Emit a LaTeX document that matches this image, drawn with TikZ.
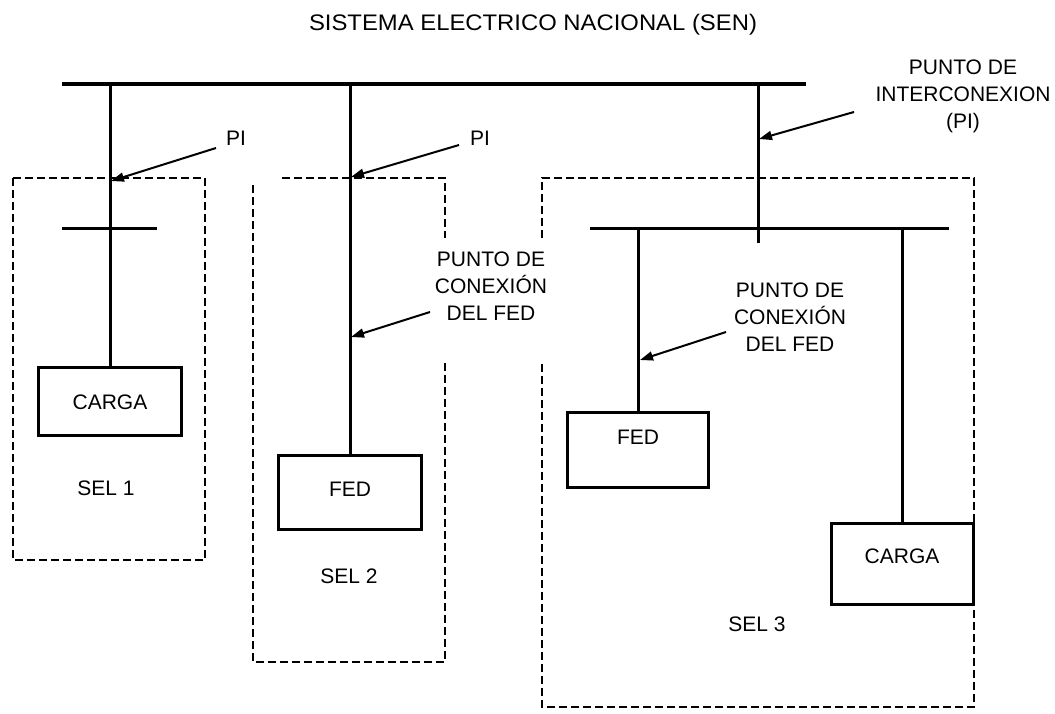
\documentclass[tikz,border=0pt]{standalone}
\usepackage{fontspec}
\setmainfont{Liberation Sans}
\newfontfamily\titlefont[FakeStretch=1.06]{Liberation Sans}
\usetikzlibrary{arrows.meta}
\begin{document}
\begin{tikzpicture}[x=1pt,y=-1pt,
  font=\fontsize{21}{27}\selectfont,
  bus/.style={line width=4pt},
  wire/.style={line width=3pt},
  boxnode/.style={draw, line width=3pt, inner sep=0pt, text height=15pt, text depth=0pt},
  selbox/.style={line width=1.5pt, dash pattern=on 8pt off 4pt},
  ptr/.style={line width=2pt, -{Triangle[length=13pt,width=9pt]}},
  lbl/.style={inner sep=0pt, align=center}]
\useasboundingbox (0,0) rectangle (1055,714);

% title
\node[lbl, font=\titlefont\fontsize{22.5}{27}\selectfont] (title) at (533,25) {SISTEMA ELECTRICO NACIONAL (SEN)};

% buses
\coordinate (busL) at (62,84);
\coordinate (busR) at (806,84);
\draw[bus] (busL) -- (busR);
\coordinate (b1top) at (110,84);
\coordinate (b2top) at (350,84);
\coordinate (b3top) at (758,84);
\coordinate (b3bot) at (758,243);

% boxes
\node[boxnode, minimum width=143pt, minimum height=68pt] (carga1) at (110,401.5) {CARGA};
\node[boxnode, minimum width=143pt, minimum height=74pt, text depth=8pt] (fed2) at (350,492.5) {FED};
\node[boxnode, minimum width=141pt, minimum height=75pt, text depth=26pt] (fed3) at (638,450) {FED};
\node[boxnode, minimum width=142pt, minimum height=81pt, text depth=16pt] (carga3) at (902,564) {CARGA};

% branch 1
\draw[wire] (b1top) -- (carga1.north);
\coordinate (sb1L) at (62,229);
\coordinate (sb1R) at (157,229);
\draw[wire] (sb1L) -- (sb1R);

% branch 2
\draw[wire] (b2top) -- (fed2.north);

% branch 3
\draw[wire] (b3top) -- (b3bot);
\coordinate (sb3L) at (590,229);
\coordinate (sb3R) at (949,229);
\draw[wire] (sb3L) -- (sb3R);
\coordinate (b3a) at (638,229);
\coordinate (b3b) at (902,229);
\draw[wire] (b3a) -- (fed3.north);
\draw[wire] (b3b) -- (carga3.north);

% SEL boxes
\draw[selbox] (13,178) rectangle (205,560);
\draw[selbox] (282,178) -- (445,178) -- (445,238);
\draw[selbox] (445,363) -- (445,662) -- (253,662) -- (253,183);
\draw[selbox] (542,238) -- (542,178) -- (974,178) -- (974,707) -- (542,707) -- (542,363);

% labels
\node[lbl] (sel1) at (106,488.5) {SEL 1};
\node[lbl] (sel2) at (349,576) {SEL 2};
\node[lbl] (sel3) at (757,624) {SEL 3};
\node[lbl] (pi1) at (236,138) {PI};
\node[lbl] (pi2) at (480,138) {PI};
\node[lbl, anchor=north] (pic) at (963,60) {PUNTO DE\\INTERCONEXION\\(PI)};
\node[lbl, anchor=north] (pc2) at (491,252) {PUNTO DE\\CONEXIÓN\\DEL FED};
\node[lbl, anchor=north] (pc3) at (790,283) {PUNTO DE\\CONEXIÓN\\DEL FED};

% arrows
\coordinate (t1) at (216,148); \coordinate (h1) at (111,181);
\coordinate (t2) at (459,145); \coordinate (h2) at (351,177);
\coordinate (t3) at (854,112); \coordinate (h3) at (759,139);
\coordinate (t4) at (430,312); \coordinate (h4) at (351,337);
\coordinate (t5) at (726,332); \coordinate (h5) at (640,360);
\draw[ptr] (t1) -- (h1);
\draw[ptr] (t2) -- (h2);
\draw[ptr] (t3) -- (h3);
\draw[ptr] (t4) -- (h4);
\draw[ptr] (t5) -- (h5);
\end{tikzpicture}
\end{document}
